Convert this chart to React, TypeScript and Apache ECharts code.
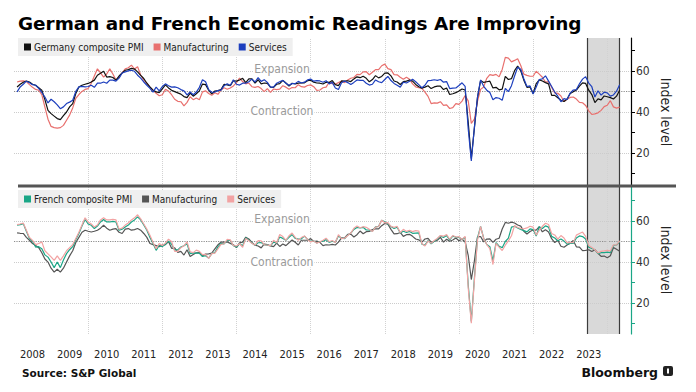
import React, { useEffect, useRef } from "react";
import * as echarts from "echarts";

// ---------- data (monthly, Jan 2008 – Apr 2024) ----------
const FIRST_YEAR = 2008;

const deComposite = [
  52.2, 53.5, 54.5, 55.1, 54.6, 53.5, 53.0, 51.8, 50.6, 46.0, 40.8, 39.2,
  38.0, 36.8, 36.3, 38.2, 40.0, 42.5, 44.1, 49.0, 52.2, 53.0, 53.5, 53.9,
  54.6, 55.5, 57.9, 58.8, 59.8, 57.0, 57.2, 56.8, 55.5, 57.5, 59.0, 60.3,
  60.6, 61.2, 60.9, 59.5, 57.8, 56.3, 54.0, 52.2, 50.6, 49.8, 49.4, 51.3,
  53.2, 51.7, 50.6, 49.9, 49.3, 48.7, 47.5, 47.0, 49.2, 47.7, 48.9, 50.3,
  53.6, 53.3, 50.6, 48.8, 50.2, 50.4, 50.9, 53.5, 53.2, 52.8, 55.2, 55.0,
  55.6, 56.4, 54.3, 56.1, 56.1, 54.0, 55.7, 53.7, 54.1, 53.9, 52.1, 52.0,
  53.5, 53.8, 55.4, 54.1, 52.6, 54.0, 53.7, 54.0, 54.1, 54.2, 55.2, 55.5,
  54.5, 54.1, 54.0, 53.6, 54.5, 54.4, 55.3, 53.3, 52.8, 55.1, 55.0, 55.2,
  54.8, 56.1, 57.1, 56.7, 57.4, 56.4, 54.7, 55.8, 57.7, 56.6, 57.3, 58.9,
  59.0, 57.6, 55.1, 54.6, 53.4, 54.8, 55.0, 55.6, 55.0, 53.4, 52.3, 51.6,
  52.1, 52.8, 51.4, 52.2, 52.6, 52.6, 50.9, 51.7, 48.5, 48.9, 49.4, 50.2,
  51.2, 50.7, 35.0, 17.4, 32.3, 47.0, 55.3, 54.4, 54.7, 55.0, 51.7, 52.0,
  50.8, 51.1, 57.3, 55.8, 56.2, 60.1, 62.4, 60.0, 55.5, 52.0, 52.2, 49.0,
  53.8, 55.6, 55.1, 54.3, 53.7, 48.1, 48.1, 46.9, 45.7, 45.1, 46.3, 49.0,
  49.9, 50.7, 52.6, 54.2, 53.9, 50.6, 48.5, 44.6, 46.4, 45.9, 47.8, 47.4,
  47.0, 46.3, 47.7, 50.6,
];

const deManufacturing = [
  54.6, 55.0, 55.1, 54.8, 53.3, 52.0, 51.0, 50.6, 48.5, 42.4, 36.5, 33.0,
  32.4, 32.2, 32.4, 33.5, 36.0, 38.5, 42.0, 46.6, 48.5, 50.0, 51.0, 51.4,
  54.0, 57.5, 61.0, 59.0, 57.0, 58.5, 61.0, 58.5, 55.5, 57.0, 59.0, 61.0,
  61.5, 62.8, 60.9, 62.0, 58.0, 55.5, 54.0, 52.0, 50.6, 49.1, 47.9, 48.4,
  51.0, 50.2, 48.4, 46.2, 45.2, 45.0, 43.0, 44.7, 47.4, 46.0, 46.8, 46.0,
  49.8, 50.3, 49.0, 48.1, 49.4, 48.6, 50.7, 51.8, 51.1, 51.7, 52.7, 54.3,
  56.5, 54.8, 53.7, 54.1, 52.3, 52.0, 52.4, 51.4, 49.9, 51.4, 49.5, 51.2,
  50.9, 51.1, 52.8, 52.1, 51.1, 51.9, 51.8, 53.3, 52.3, 52.1, 52.9, 53.2,
  52.3, 50.5, 50.7, 51.8, 52.1, 54.5, 53.8, 53.6, 54.3, 55.0, 54.3, 55.6,
  56.4, 56.8, 58.3, 58.2, 59.5, 59.6, 58.1, 59.3, 60.6, 60.6, 62.5, 63.3,
  61.1, 60.6, 58.2, 58.1, 56.9, 55.9, 56.9, 55.9, 53.7, 52.2, 51.8, 51.5,
  49.7, 47.6, 44.1, 44.4, 44.3, 45.0, 43.2, 43.5, 41.7, 42.1, 44.1, 43.7,
  45.3, 48.0, 45.4, 34.5, 36.6, 45.2, 51.0, 52.2, 56.4, 58.2, 57.8, 58.3,
  57.1, 60.7, 66.6, 66.2, 64.4, 65.1, 65.9, 62.6, 58.4, 57.8, 57.4, 57.4,
  59.8, 58.4, 56.9, 54.6, 54.8, 52.0, 49.3, 49.1, 47.8, 45.1, 46.2, 47.1,
  47.3, 46.3, 44.7, 44.5, 43.2, 40.6, 38.8, 39.1, 39.6, 40.8, 42.6, 43.3,
  45.5, 42.5, 41.9, 42.4,
];

const deServices = [
  49.8, 52.2, 53.5, 55.0, 54.2, 53.3, 53.0, 51.5, 49.5, 47.3, 44.4, 46.2,
  45.0, 43.5, 41.6, 42.5, 44.1, 44.8, 45.7, 50.0, 52.2, 52.5, 52.2, 52.4,
  53.0, 52.0, 54.0, 54.0, 54.6, 54.0, 55.5, 55.5, 55.0, 56.5, 59.0, 59.5,
  60.0, 60.3, 59.8, 57.9, 56.5, 54.6, 53.0, 51.5, 49.7, 52.1, 50.3, 52.4,
  53.7, 52.8, 52.1, 52.2, 51.8, 50.9, 50.3, 48.3, 49.7, 48.4, 49.7, 52.0,
  55.7, 54.7, 50.9, 49.6, 49.7, 50.4, 50.6, 52.8, 53.7, 52.9, 55.7, 53.5,
  53.1, 54.0, 54.0, 54.7, 56.0, 54.6, 56.7, 54.9, 55.7, 54.4, 52.1, 52.1,
  54.0, 54.7, 55.4, 54.0, 53.0, 53.8, 53.8, 54.9, 54.1, 54.5, 55.6, 56.0,
  55.0, 55.3, 55.1, 54.5, 55.2, 53.7, 54.4, 51.7, 50.9, 54.2, 55.1, 54.3,
  53.4, 54.4, 55.6, 55.4, 55.4, 54.0, 53.1, 53.5, 55.6, 54.7, 54.3, 55.8,
  57.3, 55.3, 53.9, 53.0, 52.1, 54.5, 54.1, 55.0, 55.9, 54.7, 53.3, 51.8,
  53.0, 55.3, 55.4, 55.7, 55.4, 55.8, 54.5, 54.8, 51.4, 51.6, 51.7, 52.9,
  54.2, 52.5, 31.7, 16.2, 32.6, 47.3, 55.6, 52.5, 50.6, 49.5, 46.0, 47.0,
  46.7, 45.7, 51.5, 49.9, 52.8, 57.5, 61.8, 60.8, 56.2, 52.4, 52.7, 48.7,
  52.2, 55.8, 56.1, 57.6, 55.0, 52.4, 49.7, 47.7, 45.0, 46.5, 46.1, 49.2,
  50.7, 50.9, 53.7, 56.0, 57.2, 54.1, 52.3, 47.3, 50.3, 48.2, 49.6, 49.3,
  47.7, 48.3, 50.1, 53.3,
];

const frComposite = [
  57.9, 58.2, 58.7, 55.0, 51.4, 50.0, 47.3, 47.5, 46.5, 43.5, 42.4, 40.0,
  37.3, 40.0, 37.3, 41.0, 44.1, 46.0, 47.5, 51.0, 53.9, 57.5, 60.7, 58.5,
  57.9, 56.3, 57.5, 59.5, 60.7, 59.5, 59.5, 59.8, 59.5, 55.5, 56.0, 57.0,
  58.0, 59.5, 60.5, 62.0, 60.5, 58.0, 55.5, 52.0, 49.0, 45.7, 48.2, 47.5,
  48.7, 50.2, 48.7, 45.9, 45.9, 47.3, 47.9, 48.9, 44.1, 44.5, 44.3, 44.3,
  42.7, 43.1, 41.9, 44.1, 44.6, 47.4, 49.1, 48.8, 50.5, 50.5, 48.0, 47.3,
  48.9, 47.9, 51.8, 50.6, 49.3, 48.1, 49.4, 49.5, 48.4, 48.2, 47.9, 49.7,
  49.3, 52.2, 51.5, 50.6, 52.0, 53.4, 51.5, 51.2, 51.3, 52.6, 51.0, 50.1,
  50.3, 49.3, 50.0, 50.1, 50.9, 49.6, 50.1, 49.7, 52.7, 51.6, 51.4, 53.1,
  54.1, 55.9, 56.8, 56.6, 56.9, 55.6, 55.6, 55.0, 57.1, 57.4, 60.3, 59.6,
  58.6, 57.3, 56.3, 56.9, 54.2, 55.0, 54.4, 54.9, 54.0, 54.1, 54.2, 48.7,
  48.2, 50.4, 48.9, 50.1, 51.2, 52.7, 51.9, 52.9, 50.8, 52.6, 52.1, 52.0,
  51.1, 52.0, 28.9, 11.1, 32.1, 51.7, 57.3, 51.6, 48.5, 47.5, 40.6, 49.5,
  47.7, 47.0, 50.0, 51.6, 57.0, 57.4, 56.6, 55.9, 55.3, 54.7, 56.1, 55.8,
  52.7, 57.2, 56.3, 57.6, 57.0, 52.5, 51.7, 50.4, 51.2, 50.2, 48.7, 49.1,
  49.1, 51.7, 52.7, 52.4, 51.2, 47.2, 46.6, 46.0, 44.1, 44.6, 44.6, 44.8,
  44.6, 48.1, 48.3, 49.8,
];

const frManufacturing = [
  54.2, 54.0, 53.9, 52.0, 50.6, 49.0, 48.0, 47.0, 44.5, 41.5, 40.0, 37.0,
  35.1, 36.5, 35.1, 37.0, 40.0, 43.0, 45.5, 49.5, 52.0, 54.5, 55.5, 55.0,
  54.6, 55.0, 55.5, 56.5, 57.9, 56.5, 55.5, 56.0, 56.3, 54.5, 53.9, 56.0,
  56.3, 55.5, 55.8, 56.3, 55.5, 53.9, 52.0, 49.0, 48.5, 48.0, 47.5, 48.2,
  48.5, 50.0, 46.7, 46.9, 44.7, 45.2, 43.4, 46.0, 42.7, 43.7, 44.5, 44.6,
  42.9, 43.9, 44.0, 44.4, 46.4, 48.4, 49.7, 49.7, 49.8, 49.1, 48.4, 47.0,
  49.3, 49.7, 52.1, 51.2, 49.6, 48.2, 47.8, 46.9, 48.8, 48.5, 47.9, 47.5,
  49.2, 47.6, 48.8, 48.0, 49.4, 50.7, 49.6, 48.3, 50.6, 50.6, 50.6, 51.4,
  50.0, 50.2, 49.6, 48.0, 48.4, 48.3, 48.6, 48.3, 49.7, 51.8, 51.7, 53.5,
  53.6, 52.2, 53.3, 55.1, 53.8, 54.8, 54.9, 55.8, 56.1, 56.1, 57.7, 58.8,
  58.4, 55.9, 53.7, 53.8, 54.4, 52.5, 53.3, 53.5, 52.5, 51.2, 50.8, 49.7,
  51.2, 51.5, 49.7, 50.0, 50.6, 52.0, 49.7, 51.1, 50.1, 50.7, 51.7, 50.4,
  51.1, 49.8, 43.2, 31.5, 40.6, 52.3, 52.4, 49.8, 51.2, 51.3, 49.6, 51.1,
  51.6, 56.1, 59.3, 58.9, 59.4, 59.0, 58.0, 57.5, 55.0, 53.6, 54.9, 55.6,
  55.5, 57.2, 54.7, 55.7, 54.6, 51.4, 49.5, 50.6, 47.7, 47.2, 48.3, 49.2,
  50.5, 47.4, 47.3, 45.6, 45.7, 46.0, 45.1, 46.0, 44.2, 42.8, 42.9, 42.1,
  43.1, 47.1, 46.2, 45.3,
];

const frServices = [
  58.2, 58.5, 59.0, 55.5, 52.0, 50.5, 48.5, 49.0, 49.8, 45.5, 44.0, 42.5,
  40.8, 43.0, 40.8, 43.0, 45.5, 47.0, 48.5, 51.5, 54.5, 58.0, 61.5, 59.5,
  58.5, 57.0, 58.0, 60.5, 61.5, 60.5, 60.5, 60.8, 60.5, 56.0, 56.5, 58.0,
  59.0, 60.5, 61.5, 63.0, 61.0, 58.5, 56.0, 53.0, 49.5, 46.5, 49.0, 48.0,
  49.2, 51.1, 50.0, 45.2, 45.2, 47.0, 47.9, 49.8, 45.0, 44.6, 45.8, 45.2,
  43.6, 43.7, 41.8, 44.1, 44.3, 46.4, 48.6, 48.9, 51.0, 50.8, 48.0, 47.8,
  48.9, 47.2, 51.5, 50.4, 49.1, 48.2, 50.4, 50.3, 48.4, 48.3, 47.9, 50.6,
  49.4, 53.4, 52.4, 50.6, 52.8, 54.1, 52.0, 50.6, 51.9, 52.7, 51.0, 49.8,
  50.3, 49.2, 49.9, 50.6, 51.6, 49.9, 50.5, 49.5, 53.3, 51.4, 51.6, 52.9,
  54.1, 56.4, 57.5, 56.7, 57.2, 56.9, 56.0, 54.9, 57.0, 57.3, 60.4, 59.1,
  59.2, 57.4, 56.9, 57.4, 54.3, 55.9, 54.9, 55.4, 54.8, 55.3, 55.1, 49.0,
  47.8, 50.2, 49.1, 50.5, 51.5, 52.9, 52.6, 53.4, 51.1, 52.9, 52.2, 52.4,
  51.0, 52.5, 27.4, 10.2, 31.1, 50.7, 57.3, 51.5, 48.5, 46.5, 38.8, 49.1,
  47.3, 45.6, 48.2, 50.3, 52.8, 57.8, 56.8, 56.3, 56.2, 56.6, 57.4, 57.0,
  53.1, 55.5, 57.4, 58.9, 58.3, 53.9, 53.2, 51.2, 52.9, 51.7, 49.3, 49.5,
  49.4, 53.1, 53.9, 54.6, 52.5, 48.0, 47.1, 46.0, 44.4, 45.2, 45.4, 45.7,
  45.4, 48.4, 48.3, 50.3,
];

const yearLabels = [2008, 2009, 2010, 2011, 2012, 2013, 2014, 2015, 2016, 2017, 2018, 2019, 2020, 2021, 2022, 2023];
const gridYears = [2010, 2012, 2014, 2016, 2018, 2020, 2022, 2024];
const yLabelValues = [20, 40, 60];
const yTickValues = [10, 20, 30, 40, 50, 60, 70];
const yGridValues = [20, 40, 60];
const shadeRange = [2023.46, 2024.33];

const seriesNames: Record<string, string> = {
  deC: "Germany composite PMI",
  deM: "Manufacturing",
  deS: "Services",
  frC: "French composite PMI",
  frM: "Manufacturing",
  frS: "Services",
};

// ---------- styling ----------
const SMALL_FONT = "'DejaVu Sans Condensed', 'Open Sans', sans-serif";
const TITLE_FONT = "'DejaVu Sans', Verdana, sans-serif";
const X_MIN = 2008;
const X_MAX = 2024.64;

function pts(values: number[]): [number, number][] {
  return values.map((v, i) => [FIRST_YEAR + (i + 1) / 12, v]);
}

function lineSeries(id: string, values: number[], color: string, gi: number, width = 1.2) {
  return {
    type: "line",
    name: id,
    xAxisIndex: gi,
    yAxisIndex: gi,
    data: pts(values),
    showSymbol: false,
    symbol: "none",
    silent: true,
    z: 10,
    lineStyle: { color, width },
    itemStyle: { color },
    emphasis: { disabled: true },
  };
}

function decorSeries(gi: number) {
  const hStyle = { type: "dotted", color: "#cccccc", width: 1 };
  return [
    {
      type: "line",
      name: "shade" + gi,
      xAxisIndex: gi,
      yAxisIndex: gi,
      data: [],
      z: 1,
      silent: true,
      markArea: {
        silent: true,
        z: 1,
        itemStyle: { color: "#d9d9d9" },
        label: { show: false },
        data: [[{ xAxis: shadeRange[0] }, { xAxis: shadeRange[1] }]],
      },
    },
    {
      type: "line",
      name: "grid" + gi,
      xAxisIndex: gi,
      yAxisIndex: gi,
      data: [],
      z: 2,
      silent: true,
      markLine: {
        silent: true,
        z: 2,
        symbol: ["none", "none"],
        label: { show: false },
        emphasis: { disabled: true },
        lineStyle: hStyle,
        data: [
          ...yGridValues.map((v) => ({ yAxis: v, lineStyle: hStyle })),
          { yAxis: 50, lineStyle: { type: "dotted", color: "#8c8c8c", width: 1.2 } },
          ...gridYears.map((x) => ({ xAxis: x, lineStyle: { type: "dotted", color: "#d2d2d2", width: 1 } })),
          { xAxis: shadeRange[0], lineStyle: { type: "solid", color: "#3c3c3c", width: 1.2 } },
          { xAxis: shadeRange[1], lineStyle: { type: "solid", color: "#3c3c3c", width: 1.2 } },
        ],
      },
    },
  ];
}

function yAxisFor(gi: number, min: number, max: number, color: string) {
  return {
    type: "value",
    gridIndex: gi,
    position: "right",
    min,
    max,
    axisLine: { show: true, onZero: false, lineStyle: { color, width: 1.2 } },
    axisTick: { show: true, length: 4, customValues: yTickValues, lineStyle: { color } },
    axisLabel: { show: true, customValues: yLabelValues, margin: 5, fontSize: 12, color: "#333", fontFamily: SMALL_FONT },
    splitLine: { show: false },
  };
}

function legendFor(ids: string[], top: number) {
  return {
    data: ids,
    formatter: (n: string) => seriesNames[n] ?? n,
    left: 18,
    top,
    orient: "horizontal",
    icon: "rect",
    itemWidth: 7,
    itemHeight: 7,
    itemGap: 10,
    padding: [4, 6, 4, 6],
    backgroundColor: "#efefef",
    selectedMode: false,
    textStyle: { fontSize: 10, color: "#222", fontFamily: SMALL_FONT, padding: [0, 0, 0, -2] },
  };
}

function textEl(text: string, x: number, y: number, opts: any = {}) {
  return {
    type: "text",
    x,
    y,
    z: 100,
    silent: true,
    rotation: opts.rotation ?? 0,
    style: {
      text,
      fill: opts.fill ?? "#222",
      fontSize: opts.fontSize ?? 12,
      fontFamily: opts.fontFamily ?? SMALL_FONT,
      fontWeight: opts.fontWeight ?? "normal",
      align: opts.align ?? "left",
      verticalAlign: opts.verticalAlign ?? "middle",
      backgroundColor: opts.backgroundColor,
      padding: opts.padding,
    },
  };
}

const option: any = {
  animation: false,
  backgroundColor: "#ffffff",
  grid: [
    { left: 14, right: 65, top: 38, height: 148 },
    { left: 14, right: 65, top: 186, height: 148 },
  ],
  xAxis: [
    {
      type: "value",
      gridIndex: 0,
      min: X_MIN,
      max: X_MAX,
      axisLine: { show: false },
      axisTick: { show: false },
      axisLabel: { show: false },
      splitLine: { show: false },
    },
    {
      type: "value",
      gridIndex: 1,
      min: X_MIN,
      max: X_MAX,
      interval: 0.5,
      axisLine: { show: false },
      axisTick: { show: false },
      splitLine: { show: false },
      axisLabel: {
        margin: 15,
        fontSize: 11,
        color: "#222",
        fontFamily: SMALL_FONT,
        formatter: (v: number) => {
          const y = Math.floor(v);
          return Math.abs(v - y - 0.5) < 1e-6 && yearLabels.includes(y) ? String(y) : "";
        },
      },
    },
  ],
  yAxis: [yAxisFor(0, 4, 76, "#000000"), yAxisFor(1, 5, 77, "#1aa686")],
  legend: [legendFor(["deC", "deM", "deS"], 38), legendFor(["frC", "frM", "frS"], 190)],
  series: [
    ...decorSeries(0),
    ...decorSeries(1),
    lineSeries("deM", deManufacturing, "#e8706e", 0),
    lineSeries("deC", deComposite, "#111111", 0),
    lineSeries("deS", deServices, "#1d3fbe", 0),
    lineSeries("frM", frManufacturing, "#555555", 1),
    lineSeries("frC", frComposite, "#1aa686", 1),
    lineSeries("frS", frServices, "#f2a3a3", 1),
  ],
  graphic: [
    textEl("German and French Economic Readings Are Improving", 18, 23, {
      fontSize: 18.4,
      fontWeight: "bold",
      fontFamily: TITLE_FONT,
      fill: "#000",
    }),
    {
      type: "line",
      z: 100,
      silent: true,
      shape: { x1: 18, y1: 186, x2: 676, y2: 186 },
      style: { stroke: "#555555", lineWidth: 3 },
    },
    textEl("Expansion", 282, 69, { fill: "#9a9a9a", fontSize: 12, align: "center", backgroundColor: "#fff", padding: [0, 1] }),
    textEl("Contraction", 282, 111, { fill: "#9a9a9a", fontSize: 12, align: "center", backgroundColor: "#fff", padding: [0, 1] }),
    textEl("Expansion", 282, 219, { fill: "#9a9a9a", fontSize: 12, align: "center", backgroundColor: "#fff", padding: [0, 1] }),
    textEl("Contraction", 282, 261.5, { fill: "#9a9a9a", fontSize: 12, align: "center", backgroundColor: "#fff", padding: [0, 1] }),
    textEl("Index level", 666, 112, { fontSize: 14, align: "center", rotation: -Math.PI / 2, fill: "#222" }),
    textEl("Index level", 666, 260, { fontSize: 14, align: "center", rotation: -Math.PI / 2, fill: "#222" }),
    textEl("Source: S&P Global", 22, 373, { fontSize: 10.5, fontWeight: "bold", fontFamily: TITLE_FONT, fill: "#111" }),
    textEl("Bloomberg", 658, 372, { fontSize: 12.5, fontWeight: "bold", fontFamily: TITLE_FONT, align: "right", fill: "#111" }),
    {
      type: "rect",
      z: 100,
      silent: true,
      shape: { x: 663, y: 366, width: 10, height: 10, r: 2 },
      style: { fill: "#222" },
    },
    {
      type: "rect",
      z: 101,
      silent: true,
      shape: { x: 667, y: 368.5, width: 2, height: 5 },
      style: { fill: "#fff" },
    },
  ],
};

export default function App() {
  const ref = useRef<HTMLDivElement>(null);
  useEffect(() => {
    if (!ref.current) return;
    const chart = echarts.init(ref.current, null, { renderer: "svg" });
    chart.setOption(option);
    return () => chart.dispose();
  }, []);
  return (
    <div
      ref={ref}
      style={{ position: "fixed", left: 0, top: 0, width: 696, height: 392, background: "#fff" }}
    />
  );
}
